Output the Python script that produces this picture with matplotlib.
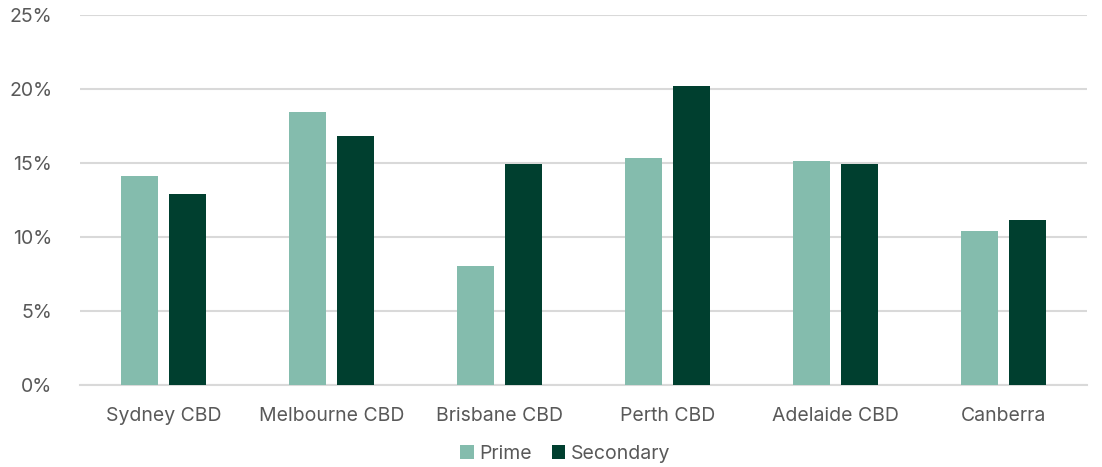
import numpy as np
import matplotlib
matplotlib.use("Agg")
import matplotlib.pyplot as plt
from matplotlib.ticker import FuncFormatter

# Vacancy rates by market
markets = ['Sydney CBD', 'Melbourne CBD', 'Brisbane CBD', 'Perth CBD', 'Adelaide CBD', 'Canberra']
prime = [14.1, 18.4, 8.0, 15.3, 15.1, 10.4]
secondary = [12.9, 16.8, 14.9, 20.2, 14.9, 11.1]
yticks = [0, 5, 10, 15, 20, 25]

plt.rcParams['font.family'] = ['Inter', 'DejaVu Sans']

fig = plt.figure(figsize=(11.02, 4.67), dpi=100)
ax = fig.add_axes([80 / 1102, 1 - 385 / 467, 1007 / 1102, 370.5 / 467])

x = np.arange(len(markets))
w = 0.22
ax.bar(x - 0.143, prime, width=w, color='#84BCAD', label='Prime', zorder=3)
ax.bar(x + 0.143, secondary, width=w, color='#003F2F', label='Secondary', zorder=3)

ax.set_xlim(-0.5, len(markets) - 0.5)
ax.set_ylim(0, 25)
ax.set_yticks(yticks)
ax.yaxis.set_major_formatter(FuncFormatter(lambda v, p: f'{v:.0f}%'))
ax.set_xticks(x)
ax.set_xticklabels(markets)

ax.grid(axis='y', color='#D9D9D9', linewidth=1.5, zorder=0)
for s in ['top', 'right', 'left']:
    ax.spines[s].set_visible(False)
ax.spines['bottom'].set_color('#D9D9D9')
ax.spines['bottom'].set_linewidth(1.5)
ax.tick_params(axis='both', length=0, labelsize=14, colors='#595959')
ax.tick_params(axis='x', pad=16)
ax.tick_params(axis='y', pad=20)

leg = ax.legend(loc='upper center', bbox_to_anchor=(0.482, -0.115), ncol=2, frameon=False,
                fontsize=14, handlelength=0.7, handleheight=0.7, handletextpad=0.3,
                columnspacing=1.0)
for t in leg.get_texts():
    t.set_color('#595959')

fig.savefig('out.png', dpi=100)
